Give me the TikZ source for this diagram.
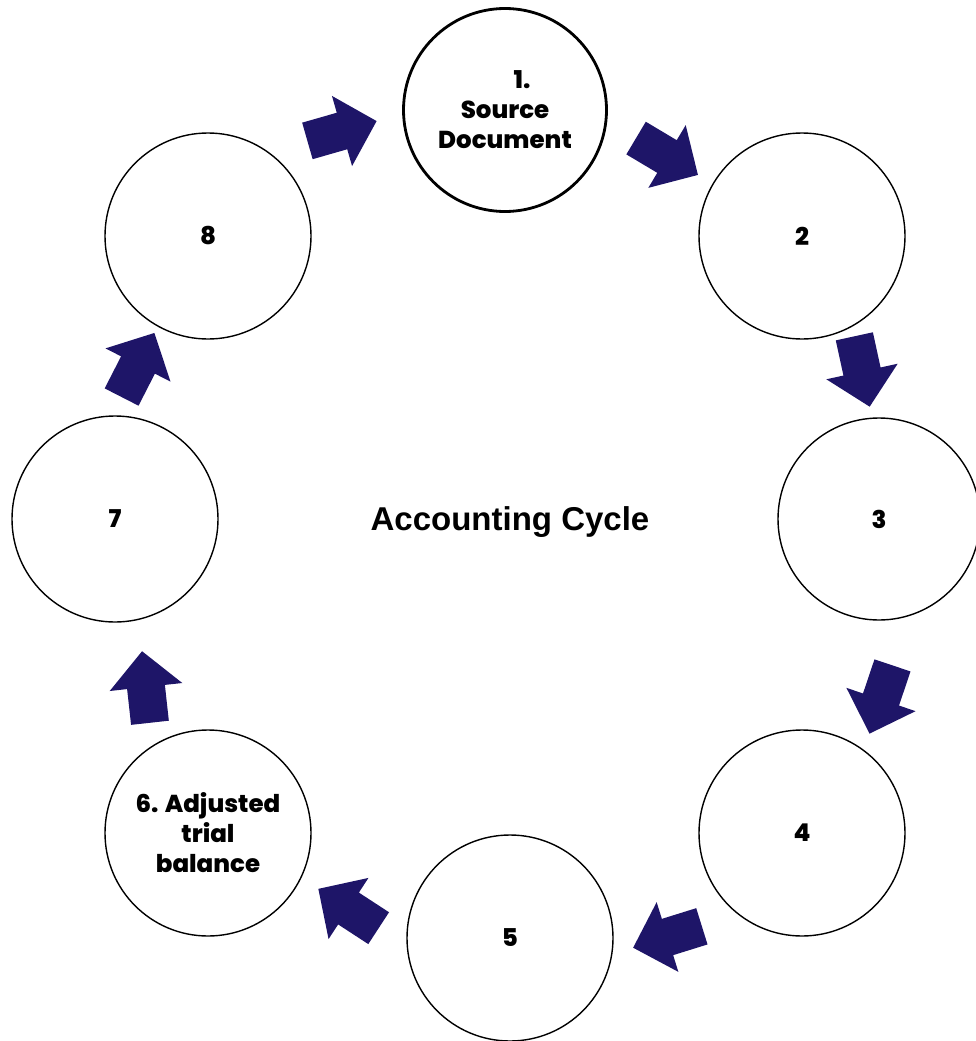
\documentclass[tikz,border=0pt]{standalone}
\usepackage{fontspec}
\newfontfamily\pop{Poppins}[BoldFont={Poppins ExtraBold}]
\newfontfamily\lib{Liberation Sans}
\definecolor{navy}{RGB}{30,21,104}
\tikzset{
  x=1pt, y=-1pt,
  stage/.style={circle, draw=black, line width=1.4pt, minimum size=206pt, inner sep=0pt,
    align=center, font=\pop\bfseries\fontsize{24.5}{30}\selectfont},
  blockarrow/.pic={\fill[navy] (-36,-19) -- (0,-19) -- (0,-36.5) -- (36,0) -- (0,36.5) -- (0,19) -- (-36,19) -- cycle;}
}
\begin{document}
\begin{tikzpicture}
\useasboundingbox (0,0) rectangle (976,1041);
\node[stage, line width=2.8pt, minimum size=203pt] (c1) at (505,110) {\hspace*{34pt}1.\\Source\\Document};
\node[stage] (c2) at (802,236) {2};
\node[stage, minimum size=202pt] (c3) at (879,519) {3};
\node[stage] (c4) at (802,833) {4};
\node[stage] (c5) at (510,938) {5};
\node[stage] (c6) at (208,833) {6. Adjusted\\trial\\balance};
\node[stage] (c7) at (115,519) {7};
\node[stage] (c8) at (208,236) {8};
\node[font=\lib\bfseries\fontsize{33}{38}\selectfont] (title) at (510,522) {Accounting Cycle};
\pic[rotate=16] at (342,131) {blockarrow};
\pic[rotate=-30.8] at (667,156.5) {blockarrow};
\pic[rotate=-77.7] at (862,371.5) {blockarrow};
\pic[rotate=-108.6] at (881,699.5) {blockarrow};
\pic[rotate=-162.7] at (667.5,937) {blockarrow};
\pic[rotate=-213.1] at (348.5,908.5) {blockarrow};
\pic[rotate=-263.7] at (146,687) {blockarrow};
\pic[rotate=-297.1] at (138,365) {blockarrow};
\end{tikzpicture}
\end{document}
